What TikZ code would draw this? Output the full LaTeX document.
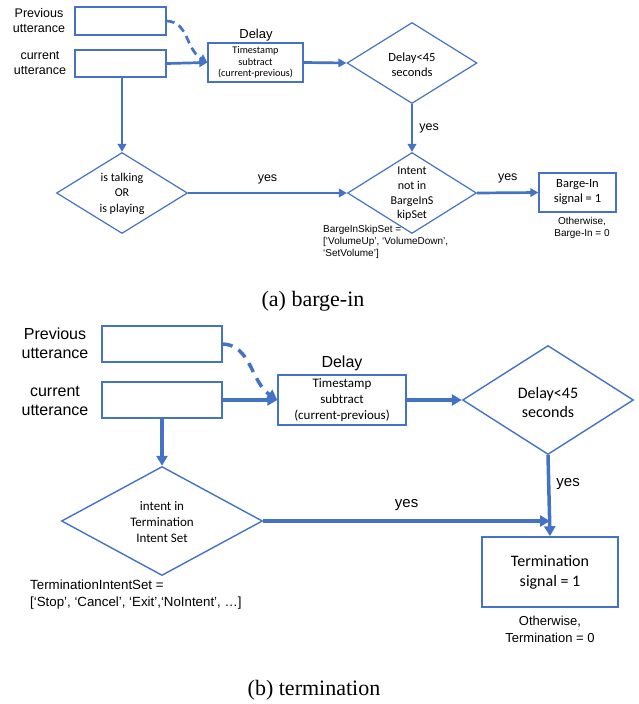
\documentclass[tikz,border=0pt]{standalone}
\usepackage{fontspec}
\setmainfont{Liberation Serif}
\newfontfamily\calfont{Carlito}
\newfontfamily\arifont{Liberation Sans}
\usetikzlibrary{shapes.geometric,arrows.meta}
\definecolor{ob}{HTML}{4472C4}
\newcommand{\fs}[2]{\fontsize{#1}{#2}\selectfont}
\begin{document}
\begin{tikzpicture}[x=1pt,y=-1pt,
  boxA/.style={draw=ob,line width=1.3pt,inner sep=0pt,align=center},
  boxB/.style={draw=ob,line width=1.5pt,inner sep=0pt,align=center},
  diaA/.style={draw=ob,diamond,line width=1.2pt,inner sep=0pt},
  diaB/.style={draw=ob,diamond,line width=1.4pt,inner sep=0pt},
  txt/.style={inner sep=0pt,align=center},
  conA/.style={draw=ob,line width=2.7pt,-{Triangle[length=8pt,width=8.5pt]}},
  conB/.style={draw=ob,line width=3.5pt,-{Triangle[length=10pt,width=11pt]}},
  dashA/.style={conA,dash pattern=on 8pt off 5pt},
  dashB/.style={conB,dash pattern=on 10pt off 7pt}]
\useasboundingbox (0,0) rectangle (638,704);
% ---------------- (a) barge-in ----------------
\node[boxA,minimum width=91pt,minimum height=28pt] (prevA) at (120.5,21) {};
\node[boxA,minimum width=91pt,minimum height=27pt] (curA) at (120.5,63.5) {};
\node[txt,font=\arifont\fs{12.5}{15}] (prevAl) at (39,20.5) {Previous\\utterance};
\node[txt,font=\arifont\fs{12.5}{15}] (curAl) at (40,63.5) {current\\utterance};
\node[boxA,minimum width=95pt,minimum height=39pt,font=\calfont\fs{10.2}{11.7}] (delA) at (255.5,62.5) {Timestamp\\subtract\\(current-previous)};
\node[txt,font=\arifont\fs{13}{15}] (delAl) at (256,35) {Delay};
\node[diaA,minimum width=130pt,minimum height=81pt] (d1A) at (412,63) {};
\node[txt,font=\calfont\fs{12.5}{15}] (d1At) at (412,64.5) {Delay<45\\seconds};
\node[diaA,minimum width=129pt,minimum height=81pt] (d2A) at (412,193) {};
\node[txt,font=\calfont\fs{12}{14.7}] (d2At) at (412,194) {Intent\\not in\\BargeInS\\kipSet};
\node[diaA,minimum width=131pt,minimum height=81pt] (d3A) at (122,193) {};
\node[txt,font=\calfont\fs{12}{15.5}] (d3At) at (122,193.5) {is talking\\OR\\is playing};
\node[boxA,minimum width=77pt,minimum height=39pt,font=\calfont\fs{12.5}{15}] (bA) at (577.5,192.5) {Barge-In\\signal = 1};
\node[txt,font=\arifont\fs{10}{12}] (othA) at (582,228) {Otherwise,\\Barge-In = 0};
\node[txt,anchor=west,align=left,font=\arifont\fs{10}{12}] (setA) at (323,242) {BargeInSkipSet =\\{[}‘VolumeUp’, ‘VolumeDown’,\\‘SetVolume’{]}};
\draw[conA] (curA.east) -- (delA.west);
\draw[dashA] (prevA.east) .. controls +(22,1) and +(-22,-14) .. (delA.west);
\draw[conA] (delA.east) -- (d1A.west);
\draw[conA] (d1A.south) -- node[txt,anchor=west,xshift=6pt,font=\arifont\fs{12.5}{15}] (yA1) {yes} (d2A.north);
\draw[conA] (d3A.north |- curA.south) -- (d3A.north);
\draw[conA] (d3A.east) -- node[txt,above=8pt,font=\arifont\fs{12.5}{15}] (yA2) {yes} (d2A.west);
\draw[conA] (d2A.east) -- node[txt,above=8pt,font=\arifont\fs{12.5}{15}] (yA3) {yes} (bA.west);
\node[txt,font=\fs{22}{26}] (capA) at (313,301) {(a) barge-in};
% ---------------- (b) termination ----------------
\node[boxB,minimum width=120pt,minimum height=36pt] (prevB) at (162,344) {};
\node[boxB,minimum width=120pt,minimum height=36pt] (curB) at (162,400) {};
\node[txt,font=\arifont\fs{16}{19}] (prevBl) at (55,343.5) {Previous\\utterance};
\node[txt,font=\arifont\fs{16}{19}] (curBl) at (55,400.5) {current\\utterance};
\node[boxB,minimum width=128pt,minimum height=50pt,font=\calfont\fs{13}{16}] (delB) at (342,400) {Timestamp\\subtract\\(current-previous)};
\node[txt,font=\arifont\fs{16}{19}] (delBl) at (342,363) {Delay};
\node[diaB,minimum width=171pt,minimum height=109pt] (d1B) at (548,400) {};
\node[txt,font=\calfont\fs{16}{19}] (d1Bt) at (548,402.5) {Delay<45\\seconds};
\node[diaB,minimum width=201pt,minimum height=109pt] (d2B) at (162,521) {};
\node[txt,font=\calfont\fs{13}{16}] (d2Bt) at (162,522) {intent in\\Termination\\Intent Set};
\node[boxB,minimum width=136pt,minimum height=70pt,font=\calfont\fs{16}{20}] (tB) at (550,572) {Termination\\signal = 1};
\node[txt,font=\arifont\fs{13}{17}] (othB) at (550,629.5) {Otherwise,\\Termination = 0};
\node[txt,anchor=west,align=left,font=\arifont\fs{13.3}{17}] (setB) at (30,594.5) {TerminationIntentSet =\\{[}‘Stop’, ‘Cancel’, ‘Exit’,‘NoIntent’, …{]}};
\coordinate (mB) at (tB.north |- d2B.east);
\draw[conB] (curB.east) -- (delB.west);
\draw[dashB] (prevB.east) .. controls +(28,1) and +(-26,-18) .. (delB.west);
\draw[conB] (delB.east) -- (d1B.west);
\draw[conB] (curB.south) -- (d2B.north);
\draw[conB] (d1B.south) -- node[txt,pos=0.35,anchor=west,xshift=6pt,font=\arifont\fs{15}{18}] (yB1) {yes} (tB.north);
\draw[conB] (d2B.east) -- node[txt,above=9pt,font=\arifont\fs{15}{18}] (yB2) {yes} (mB);
\node[txt,font=\fs{22}{26}] (capB) at (314,690) {(b) termination};
\end{tikzpicture}
\end{document}
